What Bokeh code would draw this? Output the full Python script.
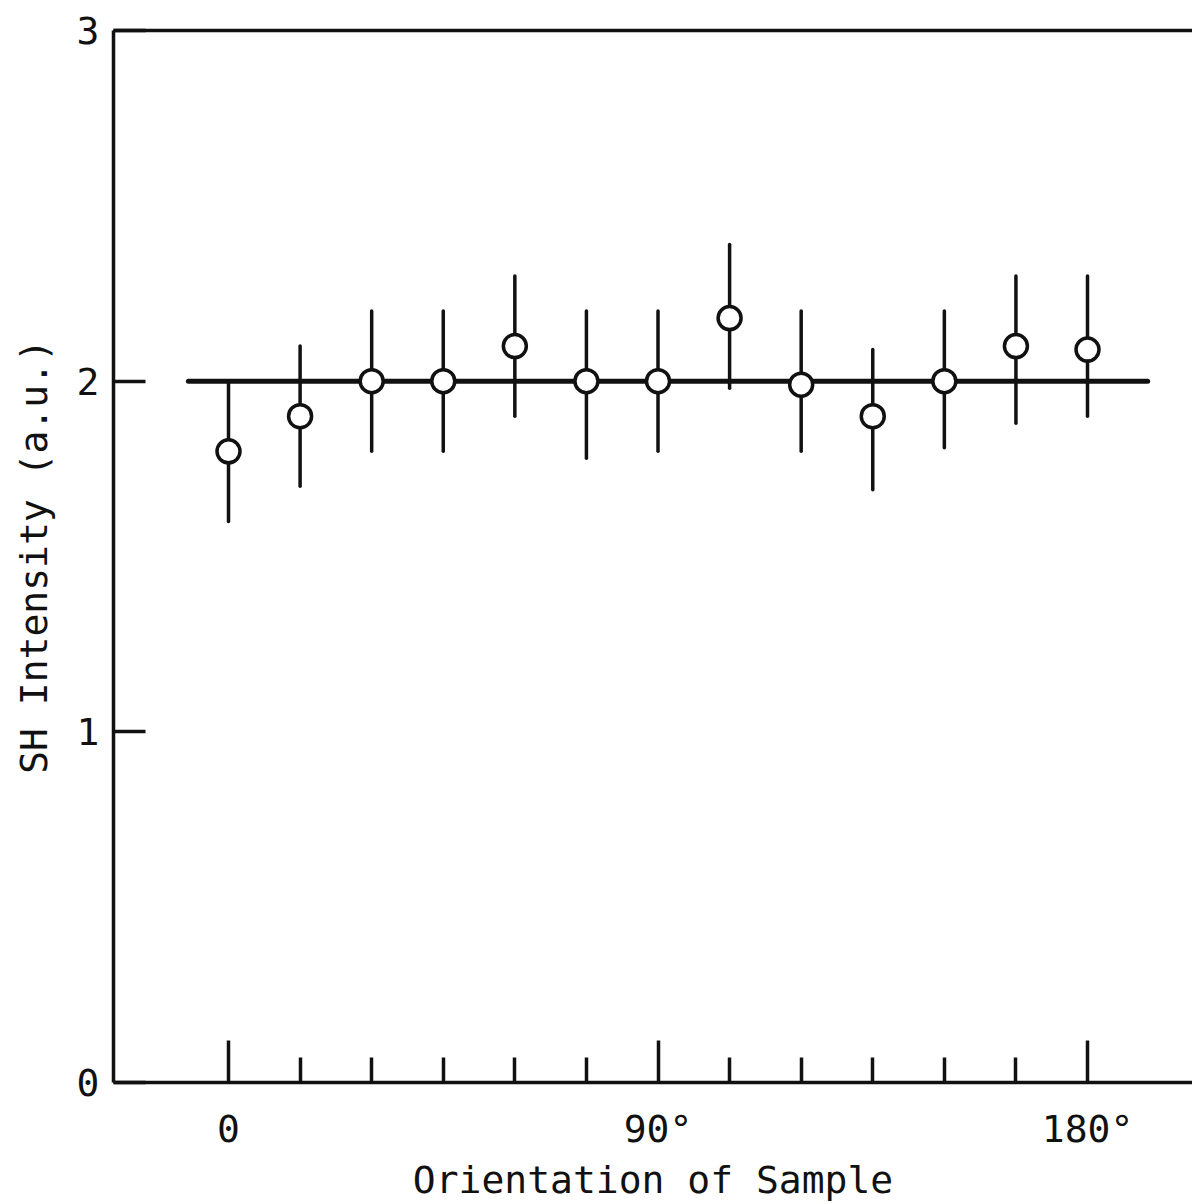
from bokeh.plotting import figure
from bokeh.models import FixedTicker, LinearAxis, Range1d
from bokeh.embed import file_html
from bokeh.resources import INLINE

# Second-harmonic intensity versus sample orientation
angles = [0, 15, 30, 45, 60, 75, 90, 105, 120, 135, 150, 165, 180]
intensity = [1.80, 1.90, 2.00, 2.00, 2.10, 2.00, 2.00, 2.18, 1.99, 1.90, 2.00, 2.10, 2.09]
err_low = [1.60, 1.70, 1.80, 1.80, 1.90, 1.78, 1.80, 1.98, 1.80, 1.69, 1.81, 1.88, 1.90]
err_high = [2.00, 2.10, 2.20, 2.20, 2.30, 2.20, 2.20, 2.39, 2.20, 2.09, 2.20, 2.30, 2.30]

# constant level drawn through the data
fit_x = [-8.4, 192.6]
fit_y = [2.0, 2.0]

x_major = [0, 90, 180]
x_minor = [15, 30, 45, 60, 75, 105, 120, 135, 150, 165]
x_labels = {0: "0", 90: "90°", 180: "180°"}
y_ticks = [0, 1, 2, 3]

FONT = "DejaVu Sans Mono"
INK = "#111111"

p = figure(width=1192, height=1204, output_backend="svg", toolbar_location=None,
           x_range=Range1d(-24.1, 202.0), y_range=Range1d(0, 3),
           min_border_left=113, min_border_right=0, min_border_top=30,
           min_border_bottom=120, x_axis_location=None, y_axis_location=None)
p.outline_line_color = None
p.grid.visible = False
p.background_fill_color = "white"
p.border_fill_color = "white"

# bottom axis: inward ticks every 15 degrees
xa = LinearAxis(ticker=FixedTicker(ticks=x_major, minor_ticks=x_minor),
                major_label_overrides=x_labels,
                axis_label="Orientation of Sample")
xa.axis_line_width = 3.5
xa.axis_line_color = INK
xa.major_tick_in = 42
xa.major_tick_out = 0
xa.minor_tick_in = 25
xa.minor_tick_out = 0
xa.major_tick_line_width = 3.5
xa.minor_tick_line_width = 3.5
xa.major_tick_line_color = INK
xa.minor_tick_line_color = INK
xa.major_label_text_font = FONT
xa.major_label_text_font_size = "38px"
xa.major_label_text_color = INK
xa.major_label_standoff = 24
xa.axis_label_text_font = FONT
xa.axis_label_text_font_size = "38px"
xa.axis_label_text_font_style = "normal"
xa.axis_label_text_color = INK
xa.axis_label_standoff = 4
p.add_layout(xa, "below")

# left axis
ya = LinearAxis(ticker=FixedTicker(ticks=y_ticks), axis_label="SH Intensity (a.u.)")
ya.axis_line_width = 3.5
ya.axis_line_color = INK
ya.major_tick_in = 32
ya.major_tick_out = 0
ya.minor_tick_line_color = None
ya.major_tick_line_width = 3.5
ya.major_tick_line_color = INK
ya.major_label_text_font = FONT
ya.major_label_text_font_size = "38px"
ya.major_label_text_color = INK
ya.major_label_standoff = 14
ya.axis_label_text_font = FONT
ya.axis_label_text_font_size = "38px"
ya.axis_label_text_font_style = "normal"
ya.axis_label_text_color = INK
ya.axis_label_standoff = 18
p.add_layout(ya, "left")

# top frame line
ta = LinearAxis(ticker=FixedTicker(ticks=[]))
ta.axis_line_width = 3.5
ta.axis_line_color = INK
ta.major_tick_line_color = None
ta.minor_tick_line_color = None
ta.major_label_text_font_size = "0px"
p.add_layout(ta, "above")

p.line(fit_x, fit_y, line_width=5, line_color=INK, line_cap="round")
p.segment(x0=angles, y0=err_low, x1=angles, y1=err_high,
          line_width=3.5, line_color=INK, line_cap="round")
p.scatter(angles, intensity, size=23, marker="circle", fill_color="white",
          line_color=INK, line_width=3.5)

open("out.html", "w").write(file_html(p, INLINE))
